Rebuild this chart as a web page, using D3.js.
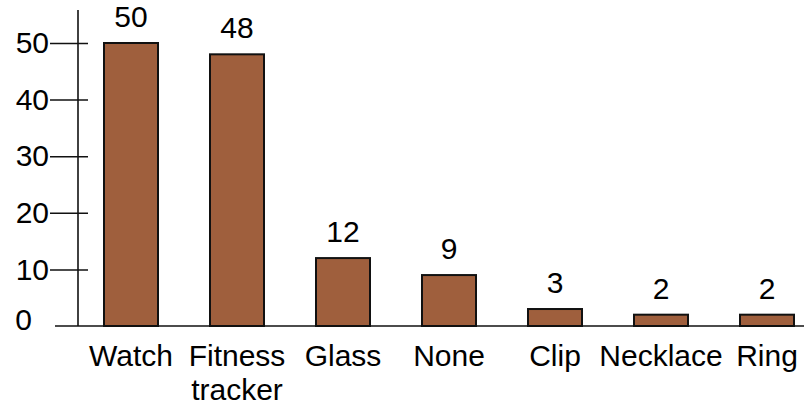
<!DOCTYPE html>
<html lang="en">

<head>
  <meta charset="UTF-8" />
  <title>Wearables bar chart</title>
  <script src="https://d3js.org/d3.v7.min.js"></script>
  <style>
    body { margin: 0; background: #fff; }
    text {
      font-family: "Liberation Sans", Arial, Helvetica, sans-serif;
      font-size: 30px;
      fill: #000;
    }
  </style>
</head>

<body>
  <svg width="804" height="406"></svg>

  <script>
    // data
    const categories = ["Watch", "Fitness tracker", "Glass", "None", "Clip", "Necklace", "Ring"];
    const counts = [50, 48, 12, 9, 3, 2, 2];
    const yTicks = [0, 10, 20, 30, 40, 50];

    const svg = d3.select("svg");
    const baseY = 326;
    const axisX = 78;
    const barW = 54;

    const x = d3.scalePoint().domain(categories).range([131, 767]);
    const y = d3.scaleLinear().domain([0, 50]).range([baseY, 43]);

    // y axis with ticks crossing the line
    const yAxis = svg.append("g")
      .attr("transform", `translate(${axisX},0)`)
      .call(d3.axisLeft(y).tickValues(yTicks).tickSize(28).tickPadding(1));
    yAxis.select(".domain").remove();
    yAxis.selectAll(".tick line")
      .attr("x1", 10)
      .attr("stroke", "#111")
      .attr("stroke-width", 1.5);
    yAxis.selectAll(".tick text")
      .attr("font-size", null)
      .attr("font-family", null)
      .attr("fill", "#000");
    // the zero tick has no mark and sits a bit further out
    yAxis.selectAll(".tick").filter(d => d === 0).each(function () {
      d3.select(this).select("line").remove();
      d3.select(this).select("text").attr("x", -46).attr("dy", "0.1em");
    });

    svg.append("line")
      .attr("x1", axisX).attr("x2", axisX)
      .attr("y1", 10).attr("y2", baseY)
      .attr("stroke", "#111").attr("stroke-width", 1.6);

    // bars
    svg.selectAll("rect.bar")
      .data(counts)
      .join("rect")
      .attr("class", "bar")
      .attr("x", (d, i) => x(categories[i]) - barW / 2)
      .attr("y", d => y(d))
      .attr("width", barW)
      .attr("height", d => baseY - y(d))
      .attr("fill", "#9f5f3d")
      .attr("stroke", "#111")
      .attr("stroke-width", 2);

    // baseline
    svg.append("line")
      .attr("x1", 55).attr("x2", 804)
      .attr("y1", baseY).attr("y2", baseY)
      .attr("stroke", "#111").attr("stroke-width", 1.6);

    // value labels
    svg.selectAll("text.val")
      .data(counts)
      .join("text")
      .attr("class", "val")
      .attr("x", (d, i) => x(categories[i]))
      .attr("y", d => y(d) - 16)
      .attr("text-anchor", "middle")
      .text(d => d);

    // category labels, wrapped on spaces
    const catLabels = svg.selectAll("text.cat")
      .data(categories)
      .join("text")
      .attr("class", "cat")
      .attr("x", d => x(d))
      .attr("y", 366)
      .attr("text-anchor", "middle");
    catLabels.selectAll("tspan")
      .data(d => d.split(" ").map(w => ({ w, c: d })))
      .join("tspan")
      .attr("x", d => x(d.c))
      .attr("dy", (d, i) => i ? 34 : 0)
      .text(d => d.w);
  </script>
</body>

</html>
